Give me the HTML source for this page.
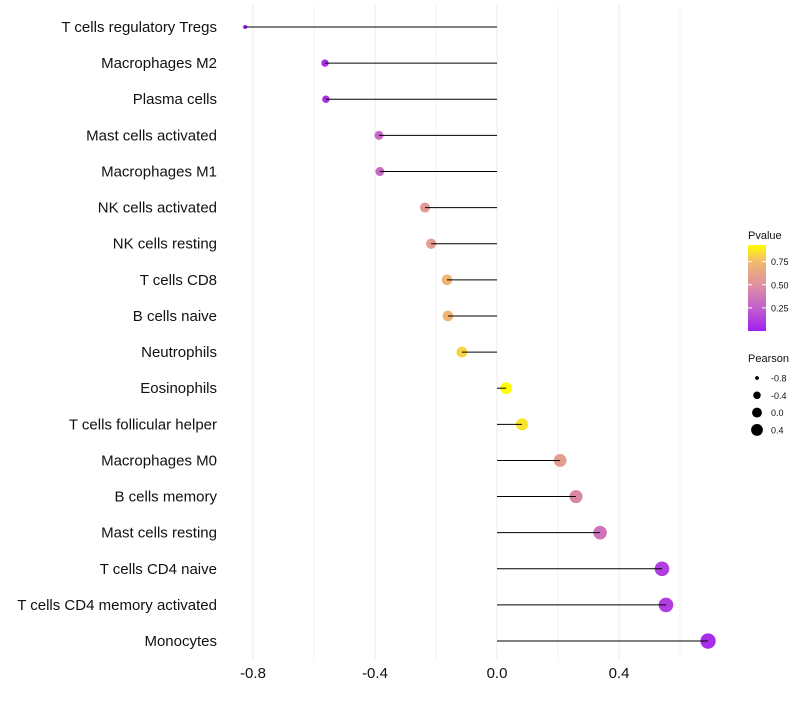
<!DOCTYPE html>
<html><head><meta charset="utf-8"><style>
body{margin:0;background:#fff;font-family:"Liberation Sans",sans-serif;}
</style></head><body>
<svg id="chart" width="800" height="700" xmlns="http://www.w3.org/2000/svg"></svg>
<script>
const categories=["T cells regulatory  Tregs","Macrophages M2","Plasma cells","Mast cells activated","Macrophages M1","NK cells activated","NK cells resting","T cells CD8","B cells naive","Neutrophils","Eosinophils","T cells follicular helper","Macrophages M0","B cells memory","Mast cells resting","T cells CD4 naive","T cells CD4 memory activated","Monocytes"];
const pearson=[-0.826,-0.564,-0.561,-0.387,-0.384,-0.236,-0.216,-0.164,-0.161,-0.115,0.030,0.082,0.207,0.259,0.338,0.541,0.554,0.692];
const pvalues=[0.0,0.06,0.06,0.3,0.3,0.55,0.58,0.72,0.72,0.82,0.93,0.86,0.58,0.45,0.35,0.12,0.12,0.05];
const xTicks=[-0.8,-0.4,0.0,0.4];
const xTickLabels=["-0.8","-0.4","0.0","0.4"];
const pTicks=[0.25,0.5,0.75];
const pTickLabels=["0.25","0.50","0.75"];
const sizeLegend=[-0.8,-0.4,0.0,0.4];
const sizeLegendLabels=["-0.8","-0.4","0.0","0.4"];

const NS="http://www.w3.org/2000/svg";
const svg=document.getElementById('chart');
const x=v=>497+v*305;
const y=i=>27+i*36.12;
const rOf=v=>Math.sqrt(Math.max(1,4+36*(v+0.83)));
const stops=[[0,[160,32,240]],[0.25,[195,95,205]],[0.5,[222,145,160]],[0.75,[242,185,110]],[0.93,[255,255,0]]];
function col(p){p=Math.max(0,Math.min(0.93,p));for(let k=1;k<stops.length;k++){if(p<=stops[k][0]){const a=stops[k-1],b=stops[k];const t=(p-a[0])/(b[0]-a[0]);const c=a[1].map((v,j)=>Math.round(v+(b[1][j]-v)*t));return `rgb(${c})`;}}return 'rgb(255,255,0)';}
function el(tag,attrs,parent){const e=document.createElementNS(NS,tag);for(const k in attrs)e.setAttribute(k,attrs[k]);(parent||svg).appendChild(e);return e;}

// grid
for(let k=-4;k<=3;k++){const v=k*0.2;const g=el('line',{x1:x(v),x2:x(v),y1:5,y2:660,stroke:'#ebebeb','stroke-width':k%2===0?1:0.6});

}
xTicks.forEach((v,i)=>{const t=el('text',{x:x(v),y:678,'font-size':15,'text-anchor':'middle',fill:'#111'});t.textContent=xTickLabels[i];

});
categories.forEach((c,i)=>{
const t=el('text',{x:217,y:y(i)+5,'font-size':15,'text-anchor':'end',fill:'#111'});t.textContent=c;


const d=el('circle',{cx:x(pearson[i]),cy:y(i),r:rOf(pearson[i]),fill:col(pvalues[i])});


const l=el('line',{x1:x(0),x2:x(pearson[i]),y1:y(i),y2:y(i),stroke:'#000','stroke-width':1});


});
// color legend
const defs=el('defs',{});const lg=el('linearGradient',{id:'pg',x1:0,y1:1,x2:0,y2:0},defs);
stops.forEach(s=>el('stop',{offset:s[0]/0.93,'stop-color':`rgb(${s[1]})`},lg));
const lt=el('text',{x:748,y:239,'font-size':11,fill:'#111'});lt.textContent='Pvalue';


const bar=el('rect',{x:748,y:245,width:18,height:86,fill:'url(#pg)'});


const py=p=>331-p/0.93*86;
pTicks.forEach((p,i)=>{el('line',{x1:748,x2:752,y1:py(p),y2:py(p),stroke:'#fff'});el('line',{x1:762,x2:766,y1:py(p),y2:py(p),stroke:'#fff'});
const t=el('text',{x:771,y:py(p)+3.5,'font-size':9,fill:'#111'});t.textContent=pTickLabels[i];

});
const st=el('text',{x:748,y:362,'font-size':11,fill:'#111'});st.textContent='Pearson';


sizeLegend.forEach((v,i)=>{const cy=378+i*17.3;
const c=el('circle',{cx:757,cy:cy,r:rOf(v)*0.85,fill:'#000'});


const t=el('text',{x:771,y:cy+3.5,'font-size':9,fill:'#111'});t.textContent=sizeLegendLabels[i];

});
</script>
</body></html>
